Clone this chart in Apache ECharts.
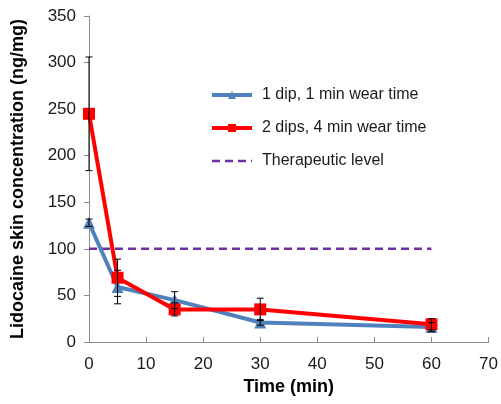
<!DOCTYPE html>
<html>
<head>
<meta charset="utf-8">
<script src="https://cdn.jsdelivr.net/npm/echarts@6/dist/echarts.min.js"></script>
<style>
  html, body { margin: 0; padding: 0; background: #fff; }
  #mainChart { width: 501px; height: 404px; }
</style>
</head>
<body>
<div id="mainChart"></div>
<script>
// 时间点 (min)
var times = [0, 5, 15, 30, 60];
// 1 dip, 1 min wear time
var dip1 = [128, 59, 45, 21, 16];
var dip1Err = [4, 18, 9, 3, 5];
// 2 dips, 4 min wear time
var dip2 = [245, 69, 35, 35, 19];
var dip2Err = [61, 20, 7, 12, 6];
// 治疗水平
var therapeuticX = [0, 60];
var therapeuticY = [100, 100];

var xTicks = [0, 10, 20, 30, 40, 50, 60, 70];
var yTicks = [0, 50, 100, 150, 200, 250, 300, 350];

var pairs = function (xs, ys) {
    return xs.map(function (x, i) { return [x, ys[i]]; });
};

var errData = function (ys, errs) {
    return times.map(function (t, i) { return [t, ys[i] - errs[i], ys[i] + errs[i]]; });
};

// 误差线
var renderErr = function (params, api) {
    var lo = api.coord([api.value(0), api.value(1)]);
    var hi = api.coord([api.value(0), api.value(2)]);
    var w = 3.5;
    var st = { stroke: '#000', lineWidth: 1 };
    return {
        type: 'group',
        children: [
            { type: 'line', shape: { x1: lo[0], y1: lo[1], x2: hi[0], y2: hi[1] }, style: st },
            { type: 'line', shape: { x1: lo[0] - w, y1: lo[1], x2: lo[0] + w, y2: lo[1] }, style: st },
            { type: 'line', shape: { x1: hi[0] - w, y1: hi[1], x2: hi[0] + w, y2: hi[1] }, style: st }
        ]
    };
};

var axisText = { color: '#1a1a1a', fontFamily: 'Liberation Sans, Arial', fontSize: 17 };
var titleText = { color: '#000', fontWeight: 'bold', fontFamily: 'Liberation Sans, Arial', fontSize: 18 };

var option = {
    animation: false,
    grid: { left: 89, right: 11, top: 16, bottom: 62 },
    legend: {
        orient: 'vertical',
        left: 205,
        top: 82,
        itemGap: 17,
        itemWidth: 40,
        itemHeight: 10,
        lineStyle: { width: 4 },
        textStyle: { color: '#1a1a1a', fontFamily: 'Liberation Sans, Arial', fontSize: 16, padding: [0, 0, 0, 5] },
        data: [
            '1 dip, 1 min wear time',
            '2 dips, 4 min wear time',
            { name: 'Therapeutic level', itemStyle: { opacity: 0 }, lineStyle: { width: 2.5 } }
        ]
    },
    xAxis: {
        type: 'value',
        min: 0, max: 70, interval: 10,
        name: 'Time (min)',
        nameLocation: 'middle',
        nameGap: 34,
        nameTextStyle: titleText,
        axisLine: { lineStyle: { color: '#8c8c8c', width: 1 } },
        axisTick: { show: true, inside: true, length: 5, lineStyle: { color: '#8c8c8c' } },
        axisLabel: Object.assign({ margin: 14, formatter: function (v) { return xTicks.indexOf(v) >= 0 ? v : ''; } }, axisText),
        splitLine: { show: false }
    },
    yAxis: {
        type: 'value',
        min: 0, max: 350, interval: 50,
        name: 'Lidocaine skin concentration (ng/mg)',
        nameLocation: 'middle',
        nameGap: 62,
        nameTextStyle: titleText,
        axisLine: { show: true, lineStyle: { color: '#8c8c8c', width: 1 } },
        axisTick: { show: true, length: 5, lineStyle: { color: '#8c8c8c' } },
        axisLabel: Object.assign({ margin: 13, formatter: function (v) { return yTicks.indexOf(v) >= 0 ? v : ''; } }, axisText),
        splitLine: { show: false }
    },
    series: [
        {
            name: 'Therapeutic level',
            type: 'line',
            data: pairs(therapeuticX, therapeuticY),
            showSymbol: false,
            symbol: 'none',
            lineStyle: { color: '#7030A0', width: 2.5, type: [8, 5] },
            itemStyle: { color: '#7030A0' },
            z: 1
        },
        {
            name: '1 dip, 1 min wear time',
            type: 'line',
            data: pairs(times, dip1),
            symbol: 'triangle',
            symbolSize: 12,
            lineStyle: { color: '#4F81BD', width: 4 },
            itemStyle: { color: '#4F81BD' },
            z: 2
        },
        {
            name: '2 dips, 4 min wear time',
            type: 'line',
            data: pairs(times, dip2),
            symbol: 'rect',
            symbolSize: 12,
            lineStyle: { color: '#FF0000', width: 4 },
            itemStyle: { color: '#FF0000' },
            z: 3
        },
        {
            type: 'custom',
            renderItem: renderErr,
            data: errData(dip1, dip1Err),
            z: 4
        },
        {
            type: 'custom',
            renderItem: renderErr,
            data: errData(dip2, dip2Err),
            z: 4
        }
    ]
};

var myChart = echarts.init(document.getElementById('mainChart'));
myChart.setOption(option);
</script>
</body>
</html>
